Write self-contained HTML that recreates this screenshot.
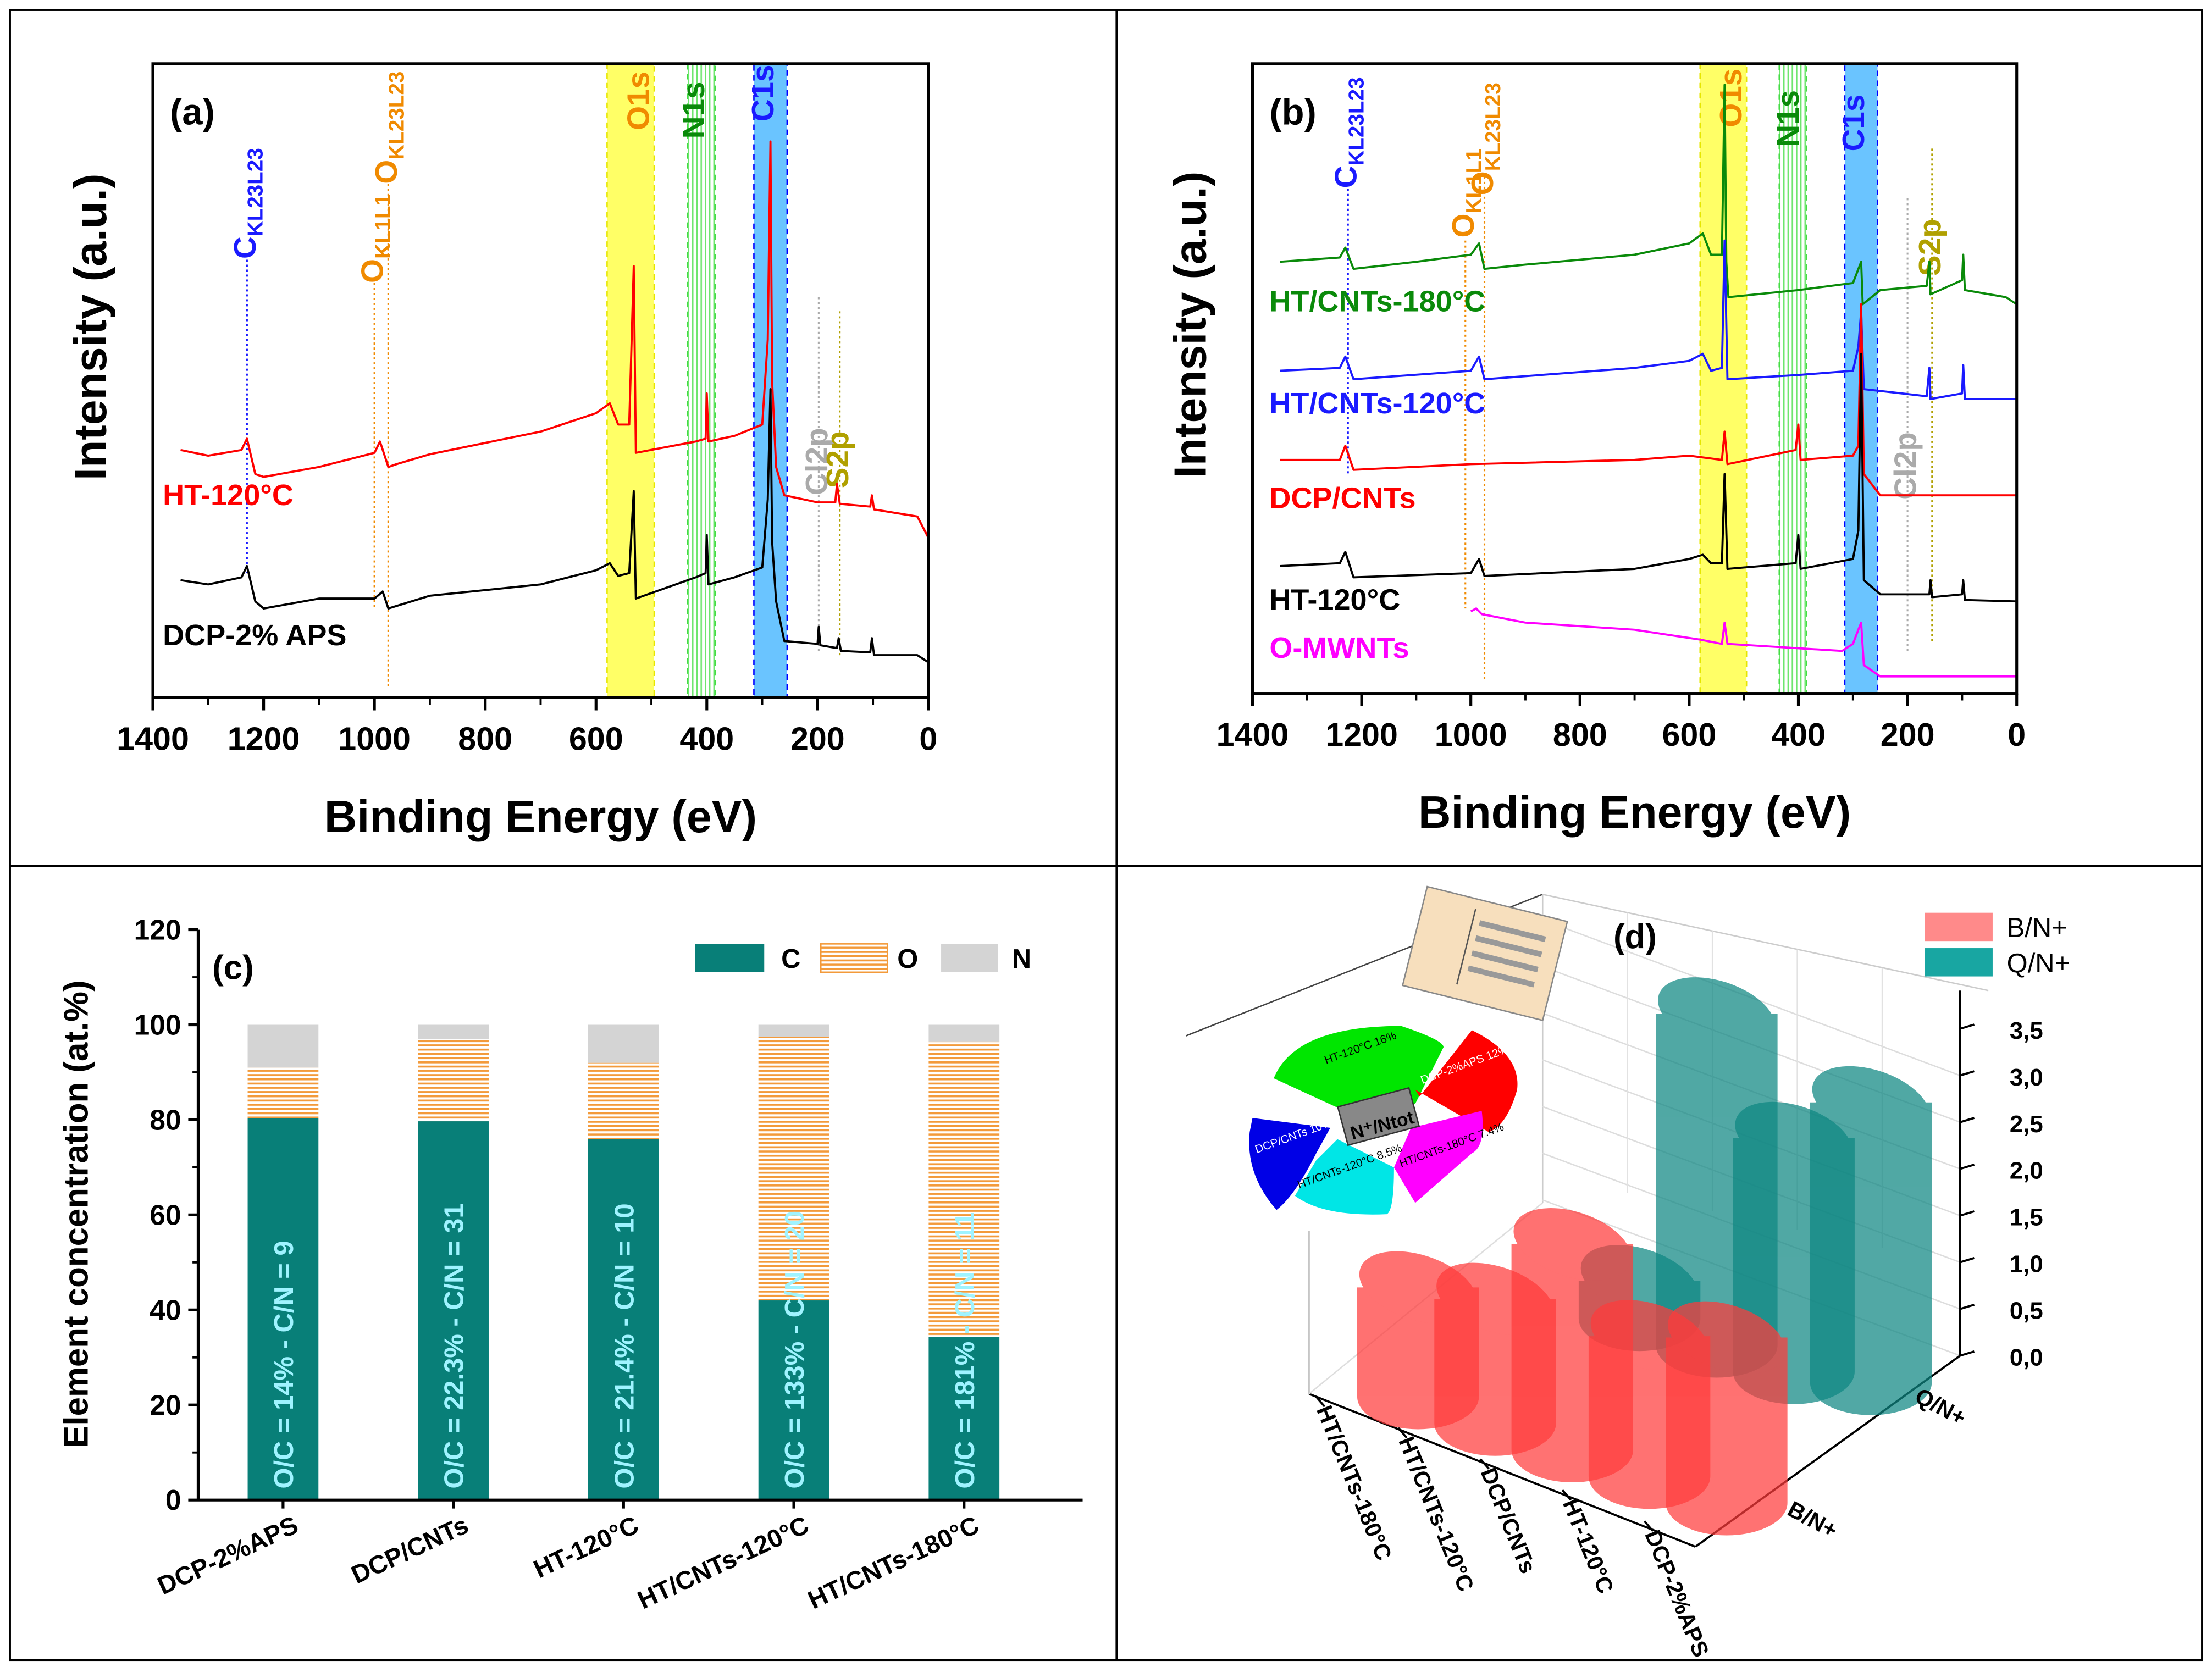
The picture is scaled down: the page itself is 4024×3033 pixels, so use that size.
<!DOCTYPE html>
<html><head><meta charset="utf-8"><style>
html,body{margin:0;padding:0;background:#fff}
svg{display:block}
text{font-family:"Liberation Sans",Arial,sans-serif}
</style></head><body>
<svg id="fig" width="4024" height="3033" viewBox="0 0 1563 1178" preserveAspectRatio="none" xmlns="http://www.w3.org/2000/svg">
<defs>
<pattern id="hatch" width="6" height="3" patternUnits="userSpaceOnUse"><rect width="6" height="3" fill="#fff"/><rect y="0" width="6" height="1.4" fill="#f39a3a"/></pattern>
<pattern id="ndots" width="3" height="3" patternUnits="userSpaceOnUse"><rect width="3" height="3" fill="#fff"/><rect width="1" height="3" fill="#6ee66e"/></pattern>
</defs>
<rect x="0" y="0" width="1563" height="1178" fill="#fff"/>
<rect x="7" y="7" width="1549" height="1166" fill="none" stroke="#000" stroke-width="1.5"/>
<line x1="789" y1="7" x2="789" y2="1173" stroke="#000" stroke-width="1.5"/>
<line x1="7" y1="612" x2="1556" y2="612" stroke="#000" stroke-width="1.5"/>
<g id="pa"></g>
<g id="pb"></g>
<g id="pc"></g>
<g id="pd"></g>
</svg>
<script>
const NS="http://www.w3.org/2000/svg";
function mk(parent,tag,attrs,txt){const e=document.createElementNS(NS,tag);for(const k in attrs)e.setAttribute(k,attrs[k]);if(txt!==undefined)e.textContent=txt;parent.appendChild(e);return e;}

// ---------- data panel (a) ----------
const aRed=[[1350,175],[1300,171],[1240,175],[1230,183],[1215,158],[1200,156],[1100,163],[1000,173],[990,181],[975,163],[960,165],[900,172],[700,188],[600,201],[575,208],[560,193],[540,193],[532,305],[528,173],[420,181],[402,183],[400,215],[397,181],[350,185],[300,193],[290,253],[285,393],[282,223],[275,163],[260,143],[200,138],[168,138],[165,151],[160,137],[105,135],[102,143],[98,133],[20,128],[0,113]];
const aBlack=[[1350,83],[1300,80],[1240,85],[1230,93],[1215,68],[1200,63],[1100,70],[1000,70],[985,75],[975,63],[900,72],[700,80],[600,90],[575,95],[560,86],[540,88],[532,146],[528,70],[420,85],[402,88],[400,115],[397,80],[350,85],[300,92],[290,140],[285,218],[282,110],[275,68],[260,40],[200,38],[198,50],[195,37],[165,35],[162,42],[158,33],[105,32],[102,42],[98,30],[20,30],[0,25]];
// ---------- data panel (b) ----------
const bGreen=[[1350,305],[1240,308],[1230,315],[1215,300],[1100,305],[1000,310],[985,318],[975,300],[900,303],[700,310],[600,318],[575,325],[560,310],[540,310],[535,430],[532,305],[528,280],[400,285],[300,290],[285,305],[282,275],[250,285],[165,288],[160,305],[158,282],[100,292],[98,310],[95,285],[20,280],[0,275]];
const bBlue=[[1350,228],[1240,230],[1230,238],[1215,222],[1000,228],[985,238],[975,222],[700,230],[600,235],[575,240],[560,228],[540,230],[535,320],[530,222],[400,225],[300,228],[290,245],[285,270],[280,215],[165,210],[160,230],[158,208],[100,212],[98,232],[95,208],[0,208]];
const bRed=[[1350,165],[1240,165],[1230,175],[1215,158],[1000,162],[700,165],[600,168],[540,165],[535,185],[530,162],[405,172],[400,190],[396,165],[300,168],[290,175],[285,275],[280,155],[250,140],[0,140]];
const bBlack=[[1350,90],[1240,92],[1230,100],[1215,82],[1000,85],[985,95],[975,83],[700,88],[600,95],[575,98],[560,92],[540,92],[535,155],[530,88],[405,92],[400,112],[396,88],[300,95],[290,115],[285,240],[280,80],[250,70],[160,70],[158,80],[155,68],[100,70],[98,80],[95,66],[0,65]];
const bMag=[[1000,58],[990,60],[980,56],[900,50],[700,45],[580,38],[540,35],[535,50],[530,35],[320,30],[300,35],[290,45],[285,50],[280,20],[250,12],[0,12]];
const eTicks=[1400,1200,1000,800,600,400,200,0];
// ---------- data panel (c) ----------
const cCats=["DCP-2%APS","DCP/CNTs","HT-120°C","HT/CNTs-120°C","HT/CNTs-180°C"];
const cC=[80.3,79.7,76,42,34.3];
const cO=[10.7,17.3,16,55.5,62.2];
const cN=[9,3,8,2.5,3.5];
const cLabels=["O/C = 14% - C/N = 9","O/C = 22.3% - C/N = 31","O/C = 21.4% - C/N = 10","O/C = 133% - C/N = 20","O/C = 181% - C/N = 11"];
const cTicks=[0,20,40,60,80,100,120];
// ---------- data panel (d) ----------
const dCats=["HT/CNTs-180°C","HT/CNTs-120°C","DCP/CNTs","HT-120°C","DCP-2%APS"];
const dB=[1.17,1.33,2.2,1.5,1.77];
const dQ=[0,0.4,3.55,2.5,3.0];
const dTicks=["0,0","0,5","1,0","1,5","2,0","2,5","3,0","3,5"];

function spectrumPanel(g,o){
  const X=E=>o.x0+(1400-E)/1400*(o.x1-o.x0);
  const Y=v=>o.y1-v;
  const bands=[["o1s-band",580,495,"#ffff66","#e6e600"],["n1s-band",435,385,"url(#ndots)","#44dd44"],["c1s-band",315,255,"#6ac4ff","#0000ff"]];
  bands.forEach(b=>{
    const r=mk(g,"rect",{x:X(b[1]),y:o.y0,width:X(b[2])-X(b[1]),height:o.y1-o.y0,fill:b[3],stroke:b[4],"stroke-dasharray":"4,3","stroke-width":1});
    
    
  });
  o.markers.forEach(m=>{
    if(m.ya!==m.yb){
      const l=mk(g,"line",{x1:X(m.E),x2:X(m.E),y1:m.ya,y2:m.yb,stroke:m.c,"stroke-dasharray":"1.5,2","stroke-width":1.2});
      
      
    }
    const t=mk(g,"text",{x:X(m.E)+6,y:m.ty,fill:m.c,"font-size":m.fs||22,"font-weight":"bold",transform:`rotate(-90 ${X(m.E)+6} ${m.ty})`},"");
    
    
    t.innerHTML=m.html;
  });
  o.series.forEach(s=>{
    const p=mk(g,"polyline",{points:s.d.map(q=>X(q[0]).toFixed(1)+","+Y(q[1]).toFixed(1)).join(" "),fill:"none",stroke:s.c,"stroke-width":1.5,"stroke-linejoin":"round"});
    
    
    const t=mk(g,"text",{x:s.lx,y:s.ly,fill:s.c,"font-size":21,"font-weight":"bold"},s.label);
    
    
  });
  const fr=mk(g,"rect",{x:o.x0,y:o.y0,width:o.x1-o.x0,height:o.y1-o.y0,fill:"none",stroke:"#000","stroke-width":2});
  
  
  eTicks.forEach(E=>{
    mk(g,"line",{x1:X(E),x2:X(E),y1:o.y1,y2:o.y1+9,stroke:"#000","stroke-width":2});
    if(E>0) mk(g,"line",{x1:X(E-100),x2:X(E-100),y1:o.y1,y2:o.y1+5,stroke:"#000","stroke-width":1.5});
    const t=mk(g,"text",{x:X(E),y:o.y1+37,"text-anchor":"middle","font-size":23,"font-weight":"bold"},E);
    
    
  });
  const xt=mk(g,"text",{x:(o.x0+o.x1)/2,y:o.y1+95,"text-anchor":"middle","font-size":32,"font-weight":"bold"},"Binding Energy (eV)");
  
  
  const yt=mk(g,"text",{x:o.ytx,y:(o.y0+o.y1)/2-38,"text-anchor":"middle","font-size":32,"font-weight":"bold",transform:`rotate(-90 ${o.ytx} ${(o.y0+o.y1)/2-38})`},"Intensity (a.u.)");
  
  
  const pl=mk(g,"text",{x:o.x0+12,y:o.y0+43,"font-size":26,"font-weight":"bold"},o.tag);
  
  
}
const sub=(m,s)=>`${m}<tspan font-size="15" dy="5">${s}</tspan>`;
spectrumPanel(document.getElementById("pa"),{x0:108,x1:656,y0:45,y1:493,ytx:75,tag:"(a)",
 markers:[
  {n:"c-kl23l23",E:1230,ya:180,yb:405,c:"#1a1aff",ty:183,html:sub("C","KL23L23")},
  {n:"o-kl1l1",E:1000,ya:200,yb:430,c:"#f08a00",ty:200,html:sub("O","KL1L1")},
  {n:"o-kl23l23",E:975,ya:130,yb:485,c:"#f08a00",ty:130,html:sub("O","KL23L23")},
  {n:"o1s",E:520,ya:0,yb:0,c:"#f08a00",ty:92,html:"O1s"},
  {n:"n1s",E:420,ya:0,yb:0,c:"#0a8a0a",ty:98,html:"N1s"},
  {n:"c1s",E:295,ya:0,yb:0,c:"#1a1aff",ty:86,html:"C1s"},
  {n:"cl2p",E:198,ya:210,yb:460,c:"#aaaaaa",ty:350,html:"Cl2p"},
  {n:"s2p",E:160,ya:220,yb:465,c:"#b0a000",ty:345,html:"S2p"}],
 series:[
  {n:"series-ht-120",d:aRed,c:"#ff0000",label:"HT-120°C",lx:115,ly:357},
  {n:"series-dcp-2-aps",d:aBlack,c:"#000",label:"DCP-2% APS",lx:115,ly:456}]});
spectrumPanel(document.getElementById("pb"),{x0:885,x1:1425,y0:45,y1:490,ytx:852,tag:"(b)",
 markers:[
  {n:"c-kl23l23",E:1225,ya:130,yb:335,c:"#1a1aff",ty:133,html:sub("C","KL23L23")},
  {n:"o-kl1l1",E:1010,ya:170,yb:430,c:"#f08a00",ty:168,html:sub("O","KL1L1")},
  {n:"o-kl23l23",E:975,ya:125,yb:480,c:"#f08a00",ty:138,html:sub("O","KL23L23")},
  {n:"o1s",E:520,ya:0,yb:0,c:"#f08a00",ty:90,html:"O1s"},
  {n:"n1s",E:415,ya:0,yb:0,c:"#0a8a0a",ty:104,html:"N1s"},
  {n:"c1s",E:295,ya:0,yb:0,c:"#1a1aff",ty:107,html:"C1s"},
  {n:"cl2p",E:200,ya:140,yb:460,c:"#aaaaaa",ty:353,html:"Cl2p"},
  {n:"s2p",E:155,ya:105,yb:455,c:"#b0a000",ty:195,html:"S2p"}],
 series:[
  {n:"series-ht-cnts-180",d:bGreen,c:"#0a8a0a",label:"HT/CNTs-180°C",lx:897,ly:220},
  {n:"series-ht-cnts-120",d:bBlue,c:"#1a1aff",label:"HT/CNTs-120°C",lx:897,ly:292},
  {n:"series-dcp-cnts",d:bRed,c:"#ff0000",label:"DCP/CNTs",lx:897,ly:359},
  {n:"series-ht-120",d:bBlack,c:"#000",label:"HT-120°C",lx:897,ly:431},
  {n:"series-o-mwnts",d:bMag,c:"#ff00ff",label:"O-MWNTs",lx:897,ly:465}]});

// ---------- panel (c) ----------
(function(){
  const g=document.getElementById("pc");
  const x0=140,x1=765,y0=657,y1=1060;
  const Y=v=>y1-v/120*(y1-y0);
  const bx=i=>200+i*120.3;
  const bw=50;
  cCats.forEach((c,i)=>{
    const cx=bx(i);
    const rc=mk(g,"rect",{x:cx-bw/2,y:Y(cC[i]),width:bw,height:Y(0)-Y(cC[i]),fill:"#087f78"});
    
    
    const ro=mk(g,"rect",{x:cx-bw/2,y:Y(cC[i]+cO[i]),width:bw,height:Y(cC[i])-Y(cC[i]+cO[i]),fill:"url(#hatch)"});
    
    
    const rn=mk(g,"rect",{x:cx-bw/2,y:Y(cC[i]+cO[i]+cN[i]),width:bw,height:Y(cC[i]+cO[i])-Y(cC[i]+cO[i]+cN[i]),fill:"#d4d4d4"});
    
    
    const t=mk(g,"text",{x:cx+7,y:Y(0)-8,fill:"#9ff3ff","font-size":19,"font-weight":"bold",transform:`rotate(-90 ${cx+7} ${Y(0)-8})`},cLabels[i]);
    
    
    const xl=mk(g,"text",{x:cx+12,y:y1+22,"text-anchor":"end","font-size":18,"font-weight":"bold",transform:`rotate(-25 ${cx+12} ${y1+22})`},c);
    
    
    mk(g,"line",{x1:cx,x2:cx,y1:y1,y2:y1+6,stroke:"#000","stroke-width":2});
  });
  mk(g,"line",{x1:x0,x2:x0,y1:y0,y2:y1,stroke:"#000","stroke-width":2});
  mk(g,"line",{x1:x0,x2:x1,y1:y1,y2:y1,stroke:"#000","stroke-width":2});
  cTicks.forEach(v=>{
    mk(g,"line",{x1:x0-7,x2:x0,y1:Y(v),y2:Y(v),stroke:"#000","stroke-width":2});
    if(v<120) mk(g,"line",{x1:x0-4,x2:x0,y1:Y(v+10),y2:Y(v+10),stroke:"#000","stroke-width":1.5});
    const t=mk(g,"text",{x:x0-12,y:Y(v)+7,"text-anchor":"end","font-size":20,"font-weight":"bold"},v);
    
    
  });
  const yt=mk(g,"text",{x:62,y:858,"text-anchor":"middle","font-size":24,"font-weight":"bold",transform:"rotate(-90 62 858)"},"Element concentration (at.%)");
  
  
  const pl=mk(g,"text",{x:150,y:692,"font-size":24,"font-weight":"bold"},"(c)");
  
  
  const leg=[["C","#087f78",491,540,552],["O","url(#hatch)",580,627,634],["N","#d4d4d4",665,705,715]];
  leg.forEach(l=>{
    const r=mk(g,"rect",{x:l[2],y:667,width:l[3]-l[2],height:20,fill:l[1],stroke:l[0]==="O"?"#f39a3a":"none"});
    
    
    const t=mk(g,"text",{x:l[4],y:684,"font-size":19,"font-weight":"bold"},l[0]);
    
    
  });
})();

// ---------- panel (d) ----------
(function(){
  const g=document.getElementById("pd");
  const L=(x1,y1,x2,y2,c,w)=>mk(g,"line",{x1,y1,x2,y2,stroke:c||"#555","stroke-width":w||1});
  L(838,732,1090,632,"#444");L(1090,632,1090,850,"#ccc");L(1090,632,1405,700,"#ccc");
  for(let k=0;k<7;k++){const y=958-k*33;L(1385,y,1090,y-110,"#ddd");}
  for(let k=1;k<5;k++){L(1090+k*60,632+k*13,1090+k*60,850+k*13-20,"#e2e2e2");}
  L(1385,700,1385,958,"#000",1.5);
  L(925,985,1198,1093,"#000",1.5);L(1198,1093,1385,958,"#000",1.5);
  L(925,985,925,870,"#bbb");L(925,985,1090,850,"#ddd");
  const dx=102,dy=-80,unit=66;
  const base=i=>[1002+i*54.5,987+i*18.75];
  function cyl(cx,by,h,fill,name){
    const rx=43,ry=23,ty=by-h*unit;
    const gg=mk(g,"g",{opacity:0.72});
    
    
    mk(gg,"path",{d:`M${cx-rx},${ty} L${cx-rx},${by} A${rx},${ry} 0 0 0 ${cx+rx},${by} L${cx+rx},${ty} Z`,fill:fill});
    mk(gg,"ellipse",{cx:cx,cy:ty,rx:rx,ry:ry,fill:fill,transform:`rotate(18 ${cx} ${ty})`});
  }
  dQ.forEach((v,i)=>{if(v>0){const b=base(i);cyl(b[0]+dx,b[1]+dy+(i===4?-5:6),v,"#0e8782","cyl-q-"+i);}});
  dB.forEach((v,i)=>{const b=base(i);cyl(b[0],b[1],v,"#ff3b3b","cyl-b-"+i);});
  dTicks.forEach((t,k)=>{
    const y=958-k*unit/2;
    L(1385,y,1395,y-3,"#000",1.5);
    const tx=mk(g,"text",{x:1420,y:y+7,"font-size":17,"font-weight":"bold"},t);
    
    
  });
  dCats.forEach((c,i)=>{
    const x=930+i*58,y=992+i*22;
    L(x,y-5,x+6,y+2,"#000",1.5);
    const t=mk(g,"text",{x:x,y:y+4,"font-size":16,"font-weight":"bold",transform:`rotate(68 ${x} ${y+4})`},c);
    
    
  });
  const q=mk(g,"text",{x:1352,y:990,"font-size":16,"font-weight":"bold",transform:"rotate(28 1352 990)"},"Q/N+");
  
  const b=mk(g,"text",{x:1262,y:1070,"font-size":16,"font-weight":"bold",transform:"rotate(28 1262 1070)"},"B/N+");
  
  const l1=mk(g,"rect",{x:1360,y:645,width:48,height:20,fill:"#ff8a8a"});
  const l2=mk(g,"rect",{x:1360,y:670,width:48,height:20,fill:"#18a6a2"});
  const t1=mk(g,"text",{x:1418,y:662,"font-size":19},"B/N+");
  const t2=mk(g,"text",{x:1418,y:687,"font-size":19},"Q/N+");
  const pl=mk(g,"text",{x:1140,y:670,"font-size":24,"font-weight":"bold"},"(d)");
  const pie=mk(g,"g",{});
  mk(pie,"path",{d:"M900,762 Q915,725 990,725 Q1020,735 1020,740 L1000,780 L950,785 Z",fill:"#00e600"});
  mk(pie,"path",{d:"M1003,775 L1040,728 Q1075,745 1072,770 Q1065,795 1052,800 L1000,770 Z",fill:"#ff0000"});
  mk(pie,"path",{d:"M997,797 L1047,785 Q1050,810 1040,815 L1000,850 L985,825 Z",fill:"#ff00ff"});
  mk(pie,"path",{d:"M945,805 L985,825 Q985,855 980,858 Q935,860 915,845 L930,820 Z",fill:"#00e6e6"});
  mk(pie,"path",{d:"M885,790 L940,797 L930,815 Q915,845 902,855 Q880,830 883,800 Z",fill:"#0000e6"});
  mk(pie,"rect",{x:948,y:775,width:52,height:28,fill:"#888",stroke:"#333",transform:"rotate(-15 974 789)"});
  mk(pie,"text",{x:952,y:800,"font-size":13,"font-weight":"bold",transform:"rotate(-15 974 789)"},"N⁺/Ntot");
  const pl2=[["HT-120°C 16%",937,752,"#000"],["DCP-2%APS 12%",1005,766,"#fff"],["HT/CNTs-180°C 7.4%",990,825,"#000"],["HT/CNTs-120°C 8.5%",918,840,"#000"],["DCP/CNTs 10%",888,815,"#fff"]];
  pl2.forEach(p=>mk(pie,"text",{x:p[1],y:p[2],"font-size":8,fill:p[3],transform:`rotate(-20 ${p[1]} ${p[2]})`},p[0]));
  const bg=mk(g,"g",{transform:"rotate(14 1050 675)"});
  mk(bg,"rect",{x:998,y:638,width:102,height:72,fill:"#f7dfbd",stroke:"#888"});
  for(let k=0;k<4;k++)mk(bg,"rect",{x:1040,y:652+k*11,width:48,height:4,fill:"#999"});
  mk(bg,"line",{x1:1035,y1:645,x2:1035,y2:700,stroke:"#555"});
})();
</script>
</body></html>
